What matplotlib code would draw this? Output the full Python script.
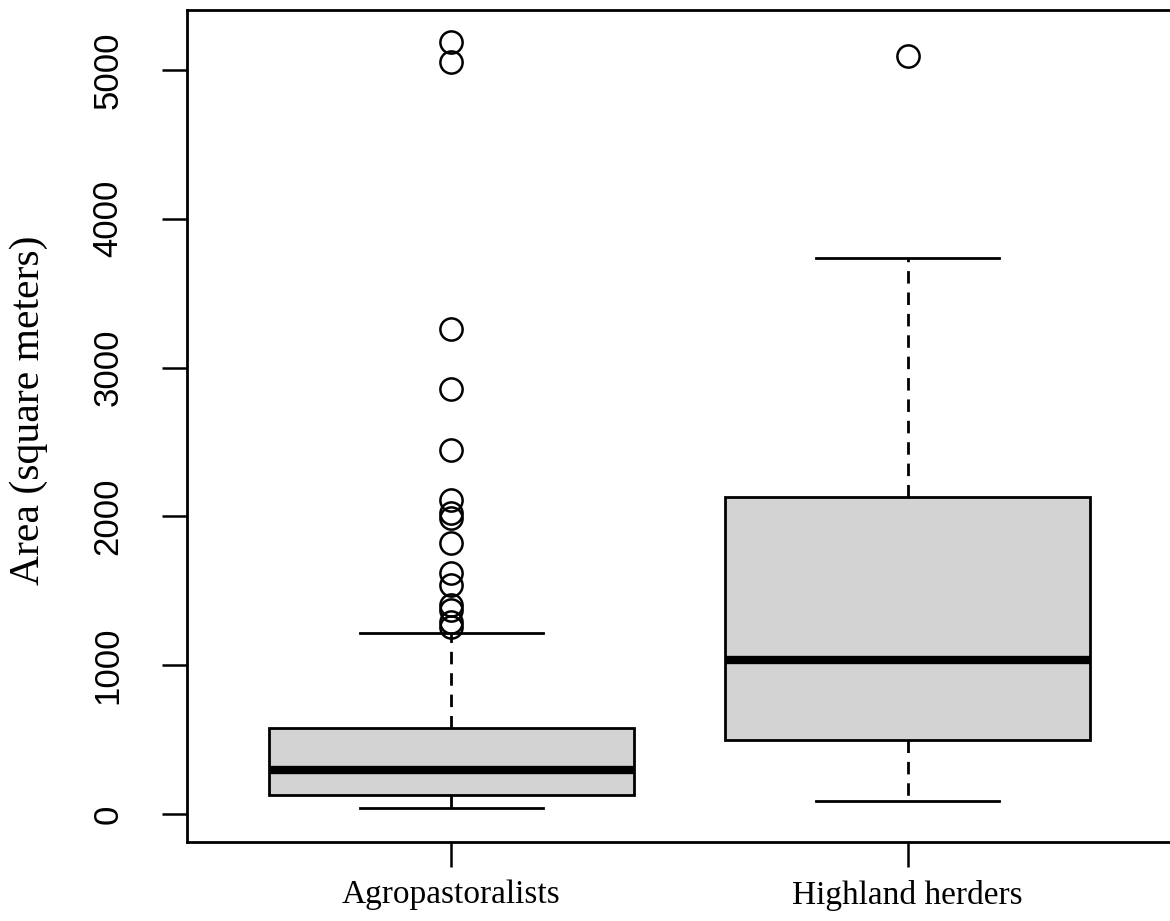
import matplotlib.pyplot as plt

# Box statistics (square meters)
groups = ['Agropastoralists', 'Highland herders']
whisker_lo = [40, 87]
q1 = [128, 497]
medians = [296, 1035]
q3 = [578, 2130]
whisker_hi = [1216, 3737]
outliers_agro = [5188, 5054, 3259, 2856, 2446, 2110, 2023, 1989, 1821,
                 1620, 1539, 1405, 1371, 1290, 1257]
outliers_high = [5094]
yticks = [0, 1000, 2000, 3000, 4000, 5000]

stats = []
for i, name in enumerate(groups):
    stats.append({
        'label': name,
        'whislo': whisker_lo[i], 'q1': q1[i], 'med': medians[i],
        'q3': q3[i], 'whishi': whisker_hi[i],
        'fliers': [outliers_agro, outliers_high][i],
    })

fig = plt.figure(figsize=(11.7, 9.21), dpi=100)
ax = fig.add_axes([187 / 1170, 1 - 842 / 921, (1172 - 187) / 1170, (842 - 10) / 921])

ax.bxp(stats, positions=[1, 2], widths=0.8, capwidths=0.4, patch_artist=True,
       boxprops=dict(facecolor='#d3d3d3', edgecolor='black', linewidth=2),
       medianprops=dict(color='black', linewidth=6, solid_capstyle='butt'),
       whiskerprops=dict(color='black', linewidth=2, linestyle=(0, (4.5, 3.2))),
       capprops=dict(color='black', linewidth=2),
       flierprops=dict(marker='o', markerfacecolor='none', markeredgecolor='black',
                       markersize=16, markeredgewidth=1.8))

ax.set_xlim(0.42, 2.58)
ax.set_ylim(-188, 5403)
ax.set_yticks(yticks)
ax.set_yticklabels([str(t) for t in yticks], rotation=90, va='center',
                   family='Liberation Sans', fontsize=25)
ax.set_xticks([1, 2])
ax.set_xticklabels(groups, family='Liberation Serif', fontsize=24)
ax.tick_params(axis='both', length=18, width=1.8, color='black')
ax.tick_params(axis='y', pad=27)
ax.tick_params(axis='x', pad=9)
for s in ax.spines.values():
    s.set_linewidth(2)
ax.set_ylabel('Area (square meters)', family='Liberation Serif', fontsize=30)
ax.yaxis.set_label_coords(-0.141, 0.519)

fig.savefig('out.png', dpi=100)
